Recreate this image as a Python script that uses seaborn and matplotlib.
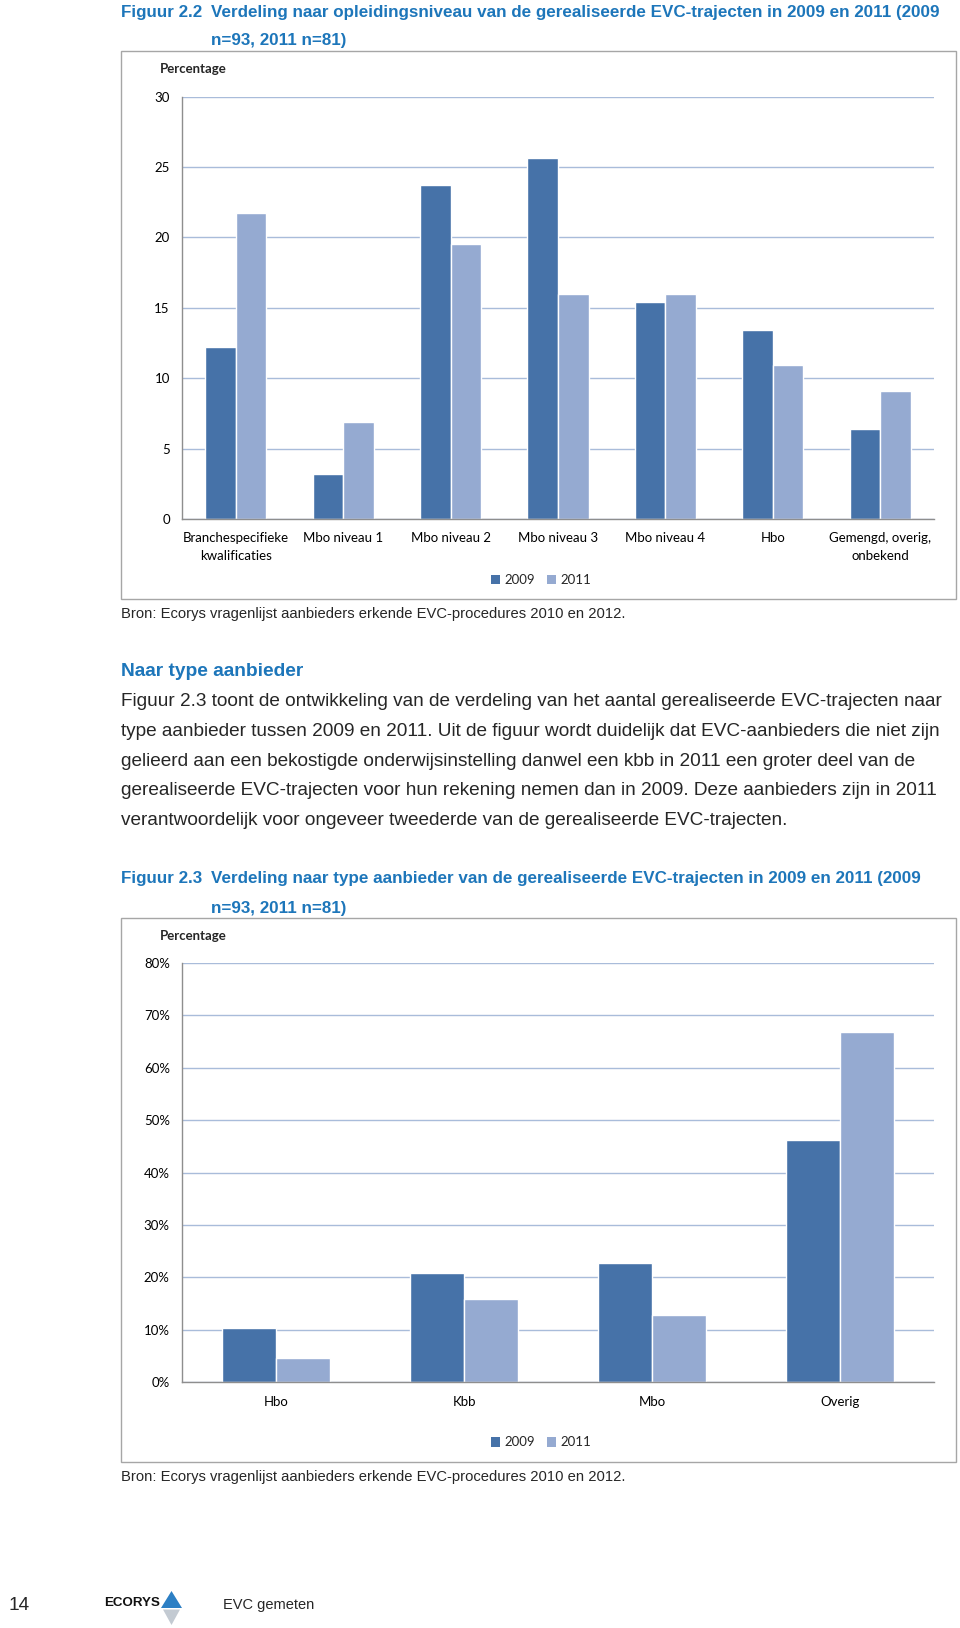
import numpy as np
import pandas as pd
import matplotlib
matplotlib.use("Agg")
import matplotlib.pyplot as plt
import seaborn as sns
from matplotlib.patches import Rectangle, Patch, Polygon
from matplotlib.ticker import FixedLocator, FuncFormatter

# ---------------- data ----------------
cats1 = ["Branchespecifieke\nkwalificaties", "Mbo niveau 1", "Mbo niveau 2",
         "Mbo niveau 3", "Mbo niveau 4", "Hbo", "Gemengd, overig,\nonbekend"]
vals1_2009 = [12.2, 3.2, 23.7, 25.6, 15.4, 13.4, 6.4]
vals1_2011 = [21.7, 6.9, 19.5, 16.0, 16.0, 10.9, 9.1]
yticks1 = [0, 5, 10, 15, 20, 25, 30]

cats2 = ["Hbo", "Kbb", "Mbo", "Overig"]
vals2_2009 = [0.103, 0.209, 0.227, 0.462]
vals2_2011 = [0.045, 0.159, 0.127, 0.669]
yticks2 = [0.0, 0.1, 0.2, 0.3, 0.4, 0.5, 0.6, 0.7, 0.8]

years = ["2009", "2011"]

title1_a = "Figuur 2.2"
title1_b = "Verdeling naar opleidingsniveau van de gerealiseerde EVC-trajecten in 2009 en 2011 (2009"
title1_c = "n=93, 2011 n=81)"
title2_a = "Figuur 2.3"
title2_b = "Verdeling naar type aanbieder van de gerealiseerde EVC-trajecten in 2009 en 2011 (2009"
title2_c = "n=93, 2011 n=81)"
source = "Bron: Ecorys vragenlijst aanbieders erkende EVC-procedures 2010 en 2012."
heading = "Naar type aanbieder"
para = [
    "Figuur 2.3 toont de ontwikkeling van de verdeling van het aantal gerealiseerde EVC-trajecten naar",
    "type aanbieder tussen 2009 en 2011. Uit de figuur wordt duidelijk dat EVC-aanbieders die niet zijn",
    "gelieerd aan een bekostigde onderwijsinstelling danwel een kbb in 2011 een groter deel van de",
    "gerealiseerde EVC-trajecten voor hun rekening nemen dan in 2009. Deze aanbieders zijn in 2011",
    "verantwoordelijk voor ongeveer tweederde van de gerealiseerde EVC-trajecten.",
]

# ---------------- style ----------------
sns.set_style("white")
plt.rcParams["font.family"] = ["Lato", "DejaVu Sans"]

C09 = "#4672A8"
C11 = "#95AAD1"
BLUE = "#1D76BA"
GRID = "#A9BCDA"
AXC = "#8E8E8E"
ARIAL = ["Liberation Sans", "DejaVu Sans"]
LBL = 9.5

W, H = 960, 1628
fig = plt.figure(figsize=(W / 100, H / 100), dpi=100)
fig.patch.set_facecolor("white")
renderer = fig.canvas.get_renderer()


def fx(x):
    return x / W


def fy(y):
    return 1 - y / H


def txt(x, y, s, target_w=None, size=12, **kw):
    kw.setdefault("va", "center")
    kw.setdefault("ha", "left")
    t = fig.text(fx(x), fy(y), s, fontsize=size, **kw)
    if target_w is not None:
        bb = t.get_window_extent(renderer)
        t.set_fontsize(size * target_w / bb.width)
    return t


def chart(ax, cats, v09, v11, yticks, ylim, fmt=None, xpad=9.8):
    df = pd.DataFrame({
        "cat": cats * 2,
        "year": [years[0]] * len(cats) + [years[1]] * len(cats),
        "value": list(v09) + list(v11),
    })
    sns.barplot(data=df, x="cat", y="value", hue="year", order=cats,
                palette=[C09, C11], width=0.57, saturation=1, ax=ax,
                legend=False, errorbar=None)
    n = len(cats)
    ax.set_xlim(-0.5, n - 0.5)
    ax.set_ylim(*ylim)
    ax.set_xlabel("")
    ax.set_ylabel("")
    ax.yaxis.set_major_locator(FixedLocator(yticks))
    if fmt is not None:
        ax.yaxis.set_major_formatter(FuncFormatter(fmt))
    ax.yaxis.grid(True, color=GRID, lw=1.0)
    ax.set_axisbelow(True)
    for s in ["top", "right"]:
        ax.spines[s].set_visible(False)
    for s in ["left", "bottom"]:
        ax.spines[s].set_color(AXC)
        ax.spines[s].set_linewidth(1.0)
    ax.xaxis.set_minor_locator(FixedLocator(np.arange(-0.5, n, 1.0)))
    ax.tick_params(axis="x", which="major", length=0, pad=xpad, labelsize=LBL,
                   labelcolor="black")
    ax.tick_params(axis="x", which="minor", length=3.3, color=AXC, direction="out")
    ax.tick_params(axis="y", length=3.3, color=AXC, direction="out", pad=5.5,
                   labelsize=LBL, labelcolor="black")
    ax.set_facecolor("white")


# ---------------- chart 1 ----------------
ax1 = fig.add_axes([fx(182), fy(519), (934 - 182) / W, (519 - 96.5) / H])
chart(ax1, cats1, vals1_2009, vals1_2011, yticks1, (0, 30), xpad=9.6)
for lab in ax1.get_xticklabels():
    lab.set_linespacing(1.6)

# ---------------- chart 2 ----------------
ax2 = fig.add_axes([fx(182), fy(1382), (934 - 182) / W, (1382 - 963) / H])
chart(ax2, cats2, vals2_2009, vals2_2011, yticks2, (0, 0.8),
      fmt=lambda v, p: f"{v * 100:.0f}%", xpad=10.3)

# frames around charts
for (l, t, r, b) in [(121, 51, 956, 599), (121, 918, 956, 1462)]:
    fig.add_artist(Rectangle((fx(l), fy(b)), (r - l) / W, (b - t) / H,
                             transform=fig.transFigure, fill=False,
                             ec="#A6A6A6", lw=1.0))

# legends
handles = [Patch(facecolor=C09, edgecolor="none"), Patch(facecolor=C11, edgecolor="none")]
for ly in (580, 1442.5):
    fig.legend(handles, years, loc="center", bbox_to_anchor=(fx(541), fy(ly)),
               ncol=2, frameon=False, handlelength=0.7, handleheight=0.7,
               handletextpad=0.3, columnspacing=0.9, fontsize=LBL)

# axis titles
txt(160, 69, "Percentage", size=9.5, fontweight="bold")
txt(160, 936, "Percentage", size=9.5, fontweight="bold")

# ---------------- page texts ----------------
tb = txt(211, 12, title1_b, target_w=726, size=13, color=BLUE, fontweight="bold", family=ARIAL)
fs_title = tb.get_fontsize()
txt(121, 12, title1_a, size=fs_title, color=BLUE, fontweight="bold", family=ARIAL)
txt(211, 41, title1_c, size=fs_title, color=BLUE, fontweight="bold", family=ARIAL)

txt(121, 614, source, target_w=503, size=12, family=ARIAL)
txt(121, 671, heading, target_w=182, size=13, color=BLUE, fontweight="bold", family=ARIAL)

t = txt(121, 702, para[0], target_w=826, size=13, family=ARIAL)
fs_para = t.get_fontsize()
for i, line in enumerate(para[1:], start=1):
    txt(121, 702 + i * 29.6, line, size=fs_para, family=ARIAL)

txt(121, 879, title2_a, size=fs_title, color=BLUE, fontweight="bold", family=ARIAL)
txt(211, 879, title2_b, size=fs_title, color=BLUE, fontweight="bold", family=ARIAL)
txt(211, 909, title2_c, size=fs_title, color=BLUE, fontweight="bold", family=ARIAL)
txt(121, 1477, source, target_w=503, size=12, family=ARIAL)

# footer
txt(8, 1605, "14", size=fs_para, family=ARIAL)
txt(223, 1605, "EVC gemeten", target_w=91, size=12, family=ARIAL)
txt(104, 1603.5, "ECORYS", target_w=56, size=11, fontweight="bold", family=ARIAL,
    color="#111111")
fig.add_artist(Polygon([(fx(161), fy(1608)), (fx(182), fy(1608)), (fx(171.5), fy(1591))],
                       closed=True, transform=fig.transFigure, fc="#2C7FC4", ec="none"))
fig.add_artist(Polygon([(fx(163), fy(1609.5)), (fx(180), fy(1609.5)), (fx(171.5), fy(1625))],
                       closed=True, transform=fig.transFigure, fc="#C3CAD2", ec="none"))

fig.savefig("out.png", dpi=100, facecolor="white")
